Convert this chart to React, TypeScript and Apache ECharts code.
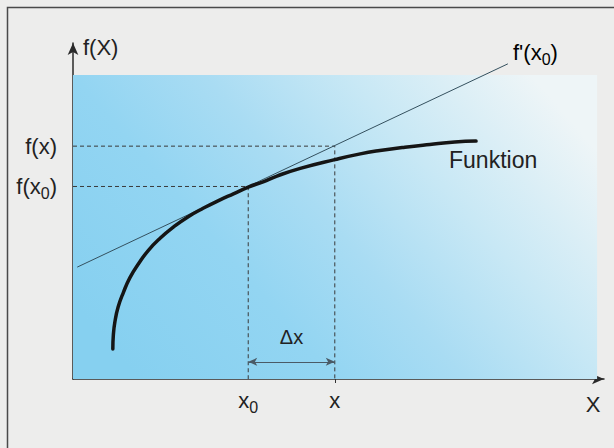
import React, { useEffect, useRef } from "react";
import * as echarts from "echarts";

// Function curve f(X) (arbitrary units 0..100)
const curveX = [7.5, 7.6, 7.9, 8.5, 9.5, 10.7, 12.3, 14.2, 16.4, 18.9, 21.7, 24.5, 27.7, 30.2, 33.0, 35.8, 38.4, 42.8, 49.3, 54.1, 57.8, 62.5, 67.2, 71.9, 75.9];
const curveY = [8.9, 13.1, 17.1, 21.4, 25.8, 30.1, 34.2, 38.3, 41.9, 45.2, 48.3, 50.8, 53.3, 55.1, 57.1, 58.7, 60.4, 62.7, 65.3, 67.0, 68.0, 69.0, 69.8, 70.5, 70.8];

// Tangent f'(x0)
const tangentX = [0.8, 81.9];
const tangentY = [33.3, 93.8];

// Marked points
const xTickValues = [33, 49.3]; // x0, x
const yTickValues = [57.3, 69.3]; // f(x0), f(x)
const xTickLabels = ["{m|x}{s|0}", "{m|x}"];
const yTickLabels = ["{m|f(x}{s|0}{m|)}", "{m|f(x)}"];
const deltaLevel = [5.1];
const deltaLabel = ["Δx"];

// Shaded region extent
const areaExtentX = [0, 98.7];
const areaExtentY = [0, 90.5];

const FONT = "'Liberation Sans', Arial, Helvetica, sans-serif";
const TXT = "#222222";

const rich = {
  m: { fontSize: 22, fontFamily: FONT, color: TXT, lineHeight: 30 },
  s: { fontSize: 16, fontFamily: FONT, color: TXT, lineHeight: 16, padding: [14, 0, 0, 0] },
};

export default function App() {
  const ref = useRef<HTMLDivElement>(null);

  useEffect(() => {
    document.body.style.margin = "0";
    const chart = echarts.init(ref.current!, undefined, { renderer: "svg" });

    const [x0, x1] = xTickValues;
    const [fx0, fx1] = yTickValues;

    const option: any = {
      animation: false,
      backgroundColor: "#ededec",
      grid: {
        left: 73,
        top: 43,
        width: 531,
        height: 336,
        containLabel: false,
        outerBoundsMode: "none",
      },
      xAxis: {
        type: "value",
        min: 0,
        max: 100,
        splitLine: { show: false },
        axisLine: {
          show: true,
          onZero: false,
          symbol: ["none", "arrow"],
          symbolSize: [8, 12],
          lineStyle: { color: "#2a2a2a", width: 1.5 },
        },
        axisTick: {
          show: true,
          customValues: [x1],
          length: 4,
          lineStyle: { color: "#333", width: 1 },
        },
        axisLabel: {
          customValues: xTickValues,
          formatter: (v: number) => xTickLabels[xTickValues.indexOf(v)] ?? "",
          margin: 6,
          rich,
        },
      },
      yAxis: {
        type: "value",
        min: 0,
        max: 100,
        splitLine: { show: false },
        axisLine: {
          show: true,
          onZero: false,
          symbol: ["none", "arrow"],
          symbolSize: [8, 12],
          lineStyle: { color: "#2a2a2a", width: 1.5 },
        },
        axisTick: { show: false },
        axisLabel: {
          customValues: yTickValues,
          formatter: (v: number) => yTickLabels[yTickValues.indexOf(v)] ?? "",
          margin: 16,
          rich,
        },
      },
      graphic: [
        {
          type: "rect",
          z: -10,
          silent: true,
          shape: { x: 7.5, y: 7.5, width: 640, height: 480 },
          style: { fill: "none", stroke: "#4a4a4a", lineWidth: 1.5 },
        },
        {
          type: "text",
          z: 100,
          x: 83,
          y: 47,
          style: { text: "f(X)", font: `22px ${FONT}`, fill: TXT, verticalAlign: "middle", align: "left" },
        },
        {
          type: "text",
          z: 100,
          x: 513,
          y: 52,
          style: {
            text: "{m|f'(x}{s|0}{m|)}",
            rich,
            verticalAlign: "middle",
            align: "left",
          },
        },
        {
          type: "text",
          z: 100,
          x: 449,
          y: 160,
          style: { text: "Funktion", font: `23px ${FONT}`, fill: TXT, verticalAlign: "middle", align: "left" },
        },
        {
          type: "text",
          z: 100,
          x: 593,
          y: 404,
          style: { text: "X", font: `22px ${FONT}`, fill: TXT, verticalAlign: "middle", align: "center" },
        },
      ],
      series: [
        {
          type: "line",
          name: "area",
          data: [],
          silent: true,
          z: 1,
          markArea: {
            silent: true,
            itemStyle: {
              opacity: 1,
              color: new echarts.graphic.LinearGradient(0, 0.75, 1, 0.25, [
                { offset: 0, color: "#86d0f0" },
                { offset: 0.3, color: "#93d5f2" },
                { offset: 0.5, color: "#a9dcf3" },
                { offset: 0.72, color: "#c8e8f5" },
                { offset: 1, color: "#eef5f7" },
              ]),
            },
            data: [[{ coord: [areaExtentX[0], areaExtentY[0]] }, { coord: [areaExtentX[1], areaExtentY[1]] }]],
          },
        },
        {
          type: "line",
          name: "guide f(x0)",
          data: [[0, fx0], [x0, fx0], [x0, 0]],
          showSymbol: false,
          silent: true,
          z: 3,
          lineStyle: { color: "#3a3a3a", width: 1, type: [4, 3] },
        },
        {
          type: "line",
          name: "guide f(x)",
          data: [[0, fx1], [x1, fx1], [x1, 0]],
          showSymbol: false,
          silent: true,
          z: 3,
          lineStyle: { color: "#3a3a3a", width: 1, type: [4, 3] },
        },
        {
          type: "line",
          name: "tangent",
          data: tangentX.map((x, i) => [x, tangentY[i]]),
          showSymbol: false,
          silent: true,
          z: 4,
          lineStyle: { color: "#34505e", width: 1 },
          markLine: {
            silent: true,
            symbol: ["arrow", "arrow"],
            symbolSize: [6, 9],
            lineStyle: { type: "solid", color: "#4a5a66", width: 1 },
            label: {
              show: true,
              position: "middle",
              formatter: deltaLabel[0],
              distance: 15,
              fontSize: 20,
              fontFamily: FONT,
              color: TXT,
            },
            data: [[{ coord: [x0, deltaLevel[0]] }, { coord: [x1, deltaLevel[0]] }]],
          },
        },
        {
          type: "line",
          name: "Funktion",
          data: curveX.map((x, i) => [x, curveY[i]]),
          smooth: 0.5,
          showSymbol: false,
          silent: true,
          z: 5,
          lineStyle: { color: "#151515", width: 3.5, cap: "round", join: "round" },
        },
      ],
    };

    chart.setOption(option);
    return () => chart.dispose();
  }, []);

  return (
    <div
      ref={ref}
      style={{ position: "absolute", left: 0, top: 0, width: 614, height: 448 }}
    />
  );
}
